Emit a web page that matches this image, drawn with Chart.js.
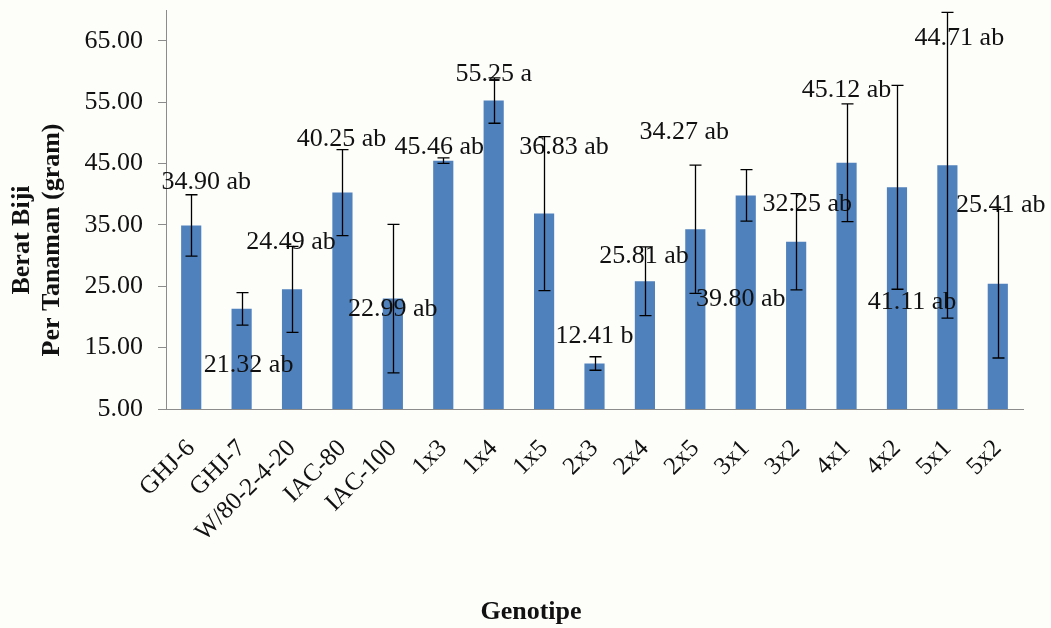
<!DOCTYPE html>
<html>
<head>
<meta charset="utf-8">
<title>Berat Biji Per Tanaman</title>
<script src="https://cdn.jsdelivr.net/npm/chart.js@4.4.0/dist/chart.umd.min.js"></script>
<style>
    html, body {
        margin: 0;
        padding: 0;
        background: #fdfdfa;
    }
    #wrap {
        width: 1051px;
        height: 628px;
    }
</style>
</head>
<body>
<div id="wrap"><canvas id="chart1" width="1051" height="628"></canvas></div>
<script>
"use strict";
const genotypes = ["GHJ-6", "GHJ-7", "W/80-2-4-20", "IAC-80", "IAC-100", "1x3", "1x4", "1x5", "2x3", "2x4", "2x5", "3x1", "3x2", "4x1", "4x2", "5x1", "5x2"];
const meanWeight = [34.90, 21.32, 24.49, 40.25, 22.99, 45.46, 55.25, 36.83, 12.41, 25.81, 34.27, 39.80, 32.25, 45.12, 41.11, 44.71, 25.41];
const errorSize = [5.0, 2.65, 7.0, 7.0, 12.1, 0.45, 3.7, 12.55, 1.1, 5.6, 10.45, 4.2, 7.85, 9.6, 16.6, 24.9, 12.1];
const letters = ["ab", "ab", "ab", "ab", "ab", "ab", "a", "ab", "b", "ab", "ab", "ab", "ab", "ab", "ab", "ab", "ab"];
const yTicks = [5, 15, 25, 35, 45, 55, 65];

// where each value label sits, in px from the top of its bar [dx, dy]
const labelNudge = [[15, -43], [7, 56], [-1, -47], [-1, -53], [0, 11], [-4, -13], [0, -26], [20, -66], [0, -27],
    [-1, -25], [-11, -97], [-5, 104], [11, -38], [0, -73], [15, 115], [12, -127], [3, -79]];

const serif = "'Liberation Serif', 'Times New Roman', serif";
const axisGray = "#8c8c8c";

const valueLabels = {
    id: "valueLabels",
    afterDatasetsDraw(chart) {
        const ctx = chart.ctx;
        const meta = chart.getDatasetMeta(0);
        const yScale = chart.scales.y;
        ctx.save();
        ctx.font = "26px " + serif;
        ctx.fillStyle = "#111";
        ctx.textAlign = "center";
        ctx.textBaseline = "middle";
        meta.data.forEach((bar, i) => {
            const y = yScale.getPixelForValue(meanWeight[i]);
            ctx.fillText(meanWeight[i].toFixed(2) + " " + letters[i], bar.x + labelNudge[i][0], y + labelNudge[i][1]);
        });
        ctx.restore();
    },
};

const errorBars = {
    id: "errorBars",
    afterDatasetsDraw(chart) {
        const ctx = chart.ctx;
        const meta = chart.getDatasetMeta(0);
        const yScale = chart.scales.y;
        ctx.save();
        ctx.strokeStyle = "#000";
        ctx.lineWidth = 1.3;
        meta.data.forEach((bar, i) => {
            const top = yScale.getPixelForValue(meanWeight[i] + errorSize[i]);
            const bottom = yScale.getPixelForValue(meanWeight[i] - errorSize[i]);
            const x = Math.round(bar.x) + 0.5;
            ctx.beginPath();
            ctx.moveTo(x, top);
            ctx.lineTo(x, bottom);
            ctx.moveTo(x - 6, top);
            ctx.lineTo(x + 6, top);
            ctx.moveTo(x - 6, bottom);
            ctx.lineTo(x + 6, bottom);
            ctx.stroke();
        });
        ctx.restore();
    },
};

const axisTitles = {
    id: "axisTitles",
    afterDraw(chart) {
        const ctx = chart.ctx;
        ctx.save();
        ctx.font = "bold 26px " + serif;
        ctx.fillStyle = "#111";
        ctx.textAlign = "center";
        ctx.textBaseline = "middle";
        ctx.fillText("Genotipe", 531, 612);
        ctx.translate(0, 240);
        ctx.rotate(-Math.PI / 2);
        ctx.fillText("Berat Biji", 0, 22);
        ctx.fillText("Per Tanaman (gram)", 0, 52);
        ctx.restore();
    },
};

const chart1Data = {
    labels: genotypes,
    datasets: [
        {
            label: "Berat Biji",
            data: meanWeight,
            backgroundColor: "#4f81bd",
            barPercentage: 0.4,
            categoryPercentage: 1,
        },
    ],
};

const chart1Config = {
    type: "bar",
    data: chart1Data,
    options: {
        responsive: false,
        animation: false,
        layout: {
            padding: { top: 10, right: 28, left: 0, bottom: 0 },
        },
        plugins: {
            legend: { display: false },
            tooltip: { enabled: false },
        },
        scales: {
            x: {
                grid: { display: false },
                border: { color: axisGray, width: 1 },
                afterFit: (scale) => {
                    scale.height = 219;
                    scale.paddingLeft = 0;
                    scale.paddingRight = 0;
                },
                ticks: {
                    autoSkip: false,
                    minRotation: 45,
                    maxRotation: 45,
                    padding: 17,
                    color: "#111",
                    font: { family: serif, size: 25 },
                },
            },
            y: {
                min: 5,
                max: 70,
                grid: { drawOnChartArea: false, drawTicks: true, tickLength: 8, color: axisGray },
                border: { color: axisGray, width: 1 },
                afterFit: (scale) => {
                    scale.width = 166;
                    scale.paddingTop = 0;
                    scale.paddingBottom = 0;
                },
                afterBuildTicks: (scale) => { scale.ticks = yTicks.map((v) => ({ value: v })); },
                ticks: {
                    padding: 15,
                    color: "#111",
                    font: { family: serif, size: 26 },
                    callback: (value) => Number(value).toFixed(2),
                },
            },
        },
    },
    plugins: [valueLabels, errorBars, axisTitles],
};

new Chart(document.querySelector("#chart1"), chart1Config);
</script>
</body>
</html>
